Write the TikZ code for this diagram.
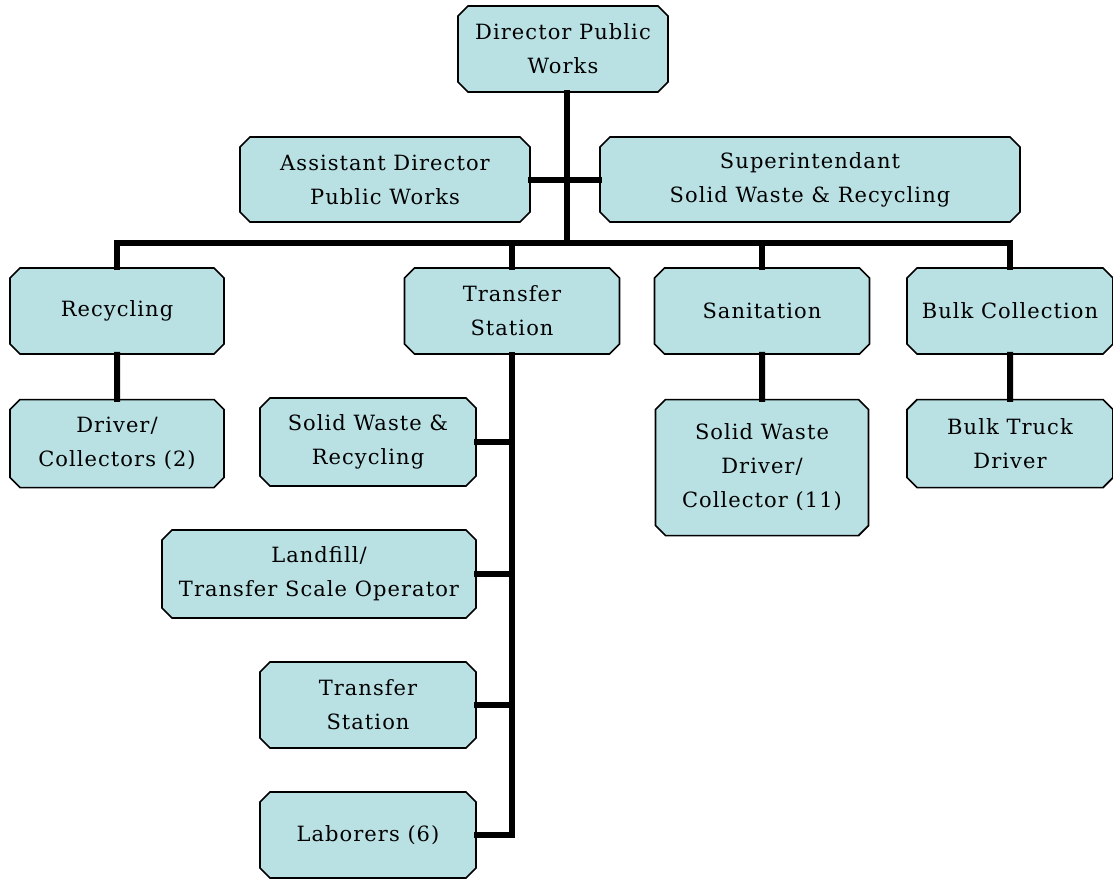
\documentclass[tikz,border=0pt]{standalone}
\usepackage{fontspec}
\newfontfamily\boxfont[LetterSpace=5]{DejaVu Serif}
\usetikzlibrary{shapes.misc, positioning}
\definecolor{boxblue}{RGB}{185,224,227}

\begin{document}
\begin{tikzpicture}[
    x=1pt, y=1pt,
    node distance=44pt,
    unit/.style={chamfered rectangle, chamfered rectangle xsep=5pt, chamfered rectangle ysep=5pt, draw, line width=1.6pt, fill=boxblue, align=center, inner sep=2pt, minimum height=86pt, font=\boxfont\fontsize{21}{34}\selectfont},
    link/.style={line width=6pt, line cap=rect}
]
\useasboundingbox (0,0) rectangle (1113,-878);
\node[unit, minimum width=210pt] (dir) at (563,-49) {Director Public\\Works};
\node[unit, minimum width=290pt, minimum height=85pt] (asst) at (385,-179.5) {Assistant Director\\Public Works};
\node[unit, minimum width=420pt, minimum height=85pt] (supt) at (810,-179.5) {Superintendant\\Solid Waste \& Recycling};
\coordinate (bus) at (567,-243);
\node[unit, minimum width=214pt] (rec) at (117,-311) {Recycling};
\node[unit, minimum width=215pt] (tra) at (512,-311) {Transfer\\Station};
\node[unit, minimum width=215pt] (san) at (762,-311) {Sanitation};
\node[unit, minimum width=206pt] (bulk) at (1010,-311) {Bulk Collection};
\node[unit, minimum width=214pt, minimum height=88pt, below=of rec] (drv) {Driver/\\Collectors (2)};
\node[unit, minimum width=213pt, minimum height=136pt, below=of san] (swd) {Solid Waste\\Driver/\\Collector (11)};
\node[unit, minimum width=206pt, minimum height=88pt, below=of bulk] (btd) {Bulk Truck\\Driver};
\node[unit, minimum width=216pt, minimum height=88pt] (swr) at (368,-442) {Solid Waste \&\\Recycling};
\node[unit, minimum width=314pt, minimum height=88pt] (land) at (319,-574) {Landfill/\\Transfer Scale Operator};
\node[unit, minimum width=216pt] (tst) at (368,-705) {Transfer\\Station};
\node[unit, minimum width=216pt] (lab) at (368,-835) {Laborers (6)};
% connectors
\draw[link] (dir.south -| bus) -- (bus);
\draw[link] (asst.east) -- (asst.east -| bus);
\draw[link] (supt.west) -- (supt.west -| bus);
\draw[link] (rec.north |- bus) -- (bulk.north |- bus);
\foreach \n in {rec,tra,san,bulk}
  \draw[link] (\n.north) -- (\n.north |- bus);
\draw[link] (rec) -- (drv);
\draw[link] (san) -- (swd);
\draw[link] (bulk) -- (btd);
\draw[link] (tra.south) -- (tra.south |- lab.east);
\foreach \n in {swr,land,tst,lab}
  \draw[link] (\n.east) -- (\n.east -| tra.south);
\end{tikzpicture}
\end{document}
